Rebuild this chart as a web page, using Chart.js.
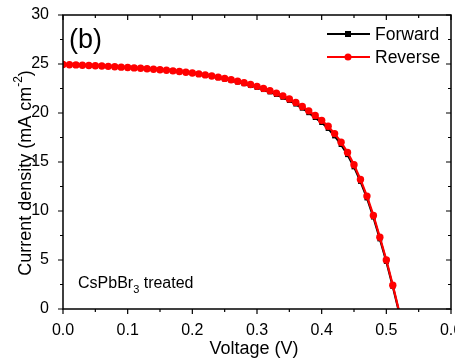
<!DOCTYPE html>
<html>
<head>
<meta charset="utf-8">
<script src="https://cdn.jsdelivr.net/npm/chart.js@4/dist/chart.umd.min.js"></script>
<style>
  body { margin: 0; background: #fff; }
  canvas { display: block; }
</style>
</head>
<body>
<canvas id="jvChart" width="455" height="362"></canvas>
<script>
// J-V sweep, 10 mV steps
var voltage = [0.00, 0.01, 0.02, 0.03, 0.04, 0.05, 0.06, 0.07, 0.08, 0.09,
               0.10, 0.11, 0.12, 0.13, 0.14, 0.15, 0.16, 0.17, 0.18, 0.19,
               0.20, 0.21, 0.22, 0.23, 0.24, 0.25, 0.26, 0.27, 0.28, 0.29,
               0.30, 0.31, 0.32, 0.33, 0.34, 0.35, 0.36, 0.37, 0.38, 0.39,
               0.40, 0.41, 0.42, 0.43, 0.44, 0.45, 0.46, 0.47, 0.48, 0.49,
               0.50, 0.51, 0.52];

var reverseJ = [24.95, 24.93, 24.91, 24.88, 24.85, 24.82, 24.79, 24.76, 24.72, 24.68,
                24.64, 24.60, 24.56, 24.51, 24.46, 24.41, 24.36, 24.30, 24.23, 24.16,
                24.08, 23.99, 23.89, 23.78, 23.66, 23.53, 23.39, 23.24, 23.08, 22.91,
                22.72, 22.51, 22.28, 22.03, 21.75, 21.44, 21.08, 20.67, 20.22, 19.74,
                19.25, 18.65, 17.90, 17.02, 15.98, 14.72, 13.22, 11.52, 9.55, 7.32,
                5.00, 2.42, -0.30];

var forwardJ = [24.94, 24.92, 24.90, 24.87, 24.84, 24.81, 24.78, 24.75, 24.71, 24.67,
                24.63, 24.59, 24.55, 24.50, 24.45, 24.40, 24.35, 24.28, 24.21, 24.14,
                24.06, 23.96, 23.86, 23.74, 23.61, 23.47, 23.32, 23.16, 22.99, 22.81,
                22.61, 22.39, 22.15, 21.89, 21.60, 21.28, 20.91, 20.49, 20.03, 19.54,
                19.03, 18.42, 17.66, 16.78, 15.75, 14.50, 13.02, 11.33, 9.38, 7.15,
                4.85, 2.30, -0.40];

var xTicks = [0.0, 0.1, 0.2, 0.3, 0.4, 0.5, 0.6];
var yTicks = [0, 5, 10, 15, 20, 25, 30];

var FONT = '"Liberation Sans", Arial, sans-serif';

function pairs(ys) {
    return voltage.map(function (v, i) { return { x: v, y: ys[i] }; });
}

// hide the marker of the point past Voc (below the axis)
function markerSize(r) {
    return function (c) { return c.parsed && c.parsed.y < 0 ? 0 : r; };
}

// frame + tick marks: bottom/left outward, top/right inward
var axisFrame = {
    id: 'axisFrame',
    afterDatasetsDraw: function (chart) {
        var ctx = chart.ctx, a = chart.chartArea;
        var x = chart.scales.x, y = chart.scales.y;
        ctx.save();
        ctx.strokeStyle = '#000';
        ctx.lineWidth = 1.5;
        ctx.strokeRect(a.left, a.top, a.right - a.left, a.bottom - a.top);
        ctx.lineWidth = 1.2;
        ctx.beginPath();
        for (var i = 0; i <= 12; i++) {
            var px = x.getPixelForValue(i * 0.05);
            var len = i % 2 ? 3 : 5;
            ctx.moveTo(px, a.bottom); ctx.lineTo(px, a.bottom + len);
            ctx.moveTo(px, a.top); ctx.lineTo(px, a.top + len);
        }
        for (var j = 0; j <= 12; j++) {
            var py = y.getPixelForValue(j * 2.5);
            var l2 = j % 2 ? 3 : 5;
            ctx.moveTo(a.left, py); ctx.lineTo(a.left - l2, py);
            ctx.moveTo(a.right, py); ctx.lineTo(a.right - l2, py);
        }
        ctx.stroke();
        ctx.restore();
    },
    afterDraw: function (chart) {
        var ctx = chart.ctx;
        ctx.save();
        ctx.fillStyle = '#000';

        // panel letter
        ctx.font = '27px ' + FONT;
        ctx.textBaseline = 'alphabetic';
        ctx.textAlign = 'left';
        ctx.fillText('(b)', 69, 48);

        // sample note with subscript
        ctx.font = '16px ' + FONT;
        ctx.textBaseline = 'middle';
        var t = 'CsPbBr';
        ctx.fillText(t, 78, 284);
        var w = ctx.measureText(t).width;
        ctx.font = '11px ' + FONT;
        ctx.fillText('3', 78 + w, 290);
        var w3 = ctx.measureText('3').width;
        ctx.font = '16px ' + FONT;
        ctx.fillText(' treated', 78 + w + w3, 284);

        // x title
        ctx.font = '18px ' + FONT;
        ctx.textAlign = 'center';
        ctx.fillText('Voltage (V)', 254, 349);

        // y title, rotated, with superscript
        ctx.translate(26, 173);
        ctx.rotate(-Math.PI / 2);
        ctx.textAlign = 'left';
        var main = 'Current density (mA cm';
        ctx.font = '18px ' + FONT;
        var mw = ctx.measureText(main).width;
        ctx.font = '12px ' + FONT;
        var sw = ctx.measureText('-2').width;
        ctx.font = '18px ' + FONT;
        var cw = ctx.measureText(')').width;
        var x0 = -(mw + sw + cw) / 2;
        ctx.fillText(main, x0, 0);
        ctx.font = '12px ' + FONT;
        ctx.fillText('-2', x0 + mw, -7);
        ctx.font = '18px ' + FONT;
        ctx.fillText(')', x0 + mw + sw, 0);
        ctx.restore();

        // legend: line with marker, then name
        var rows = [chart.data.datasets[1], chart.data.datasets[0]];
        ctx.save();
        rows.forEach(function (ds, k) {
            var ly = 34 + k * 23;
            ctx.strokeStyle = ds.borderColor;
            ctx.lineWidth = 2;
            ctx.beginPath();
            ctx.moveTo(327, ly); ctx.lineTo(370, ly);
            ctx.stroke();
            ctx.fillStyle = ds.backgroundColor;
            if (ds.pointStyle === 'rect') {
                ctx.fillRect(345, ly - 3, 6, 6);
            } else {
                ctx.beginPath();
                ctx.arc(348, ly, 3.5, 0, Math.PI * 2);
                ctx.fill();
            }
            ctx.fillStyle = '#000';
            ctx.font = '17.5px ' + FONT;
            ctx.textBaseline = 'middle';
            ctx.textAlign = 'left';
            ctx.fillText(ds.label, 375, ly + 1);
        });
        ctx.restore();
    }
};

var ctx = document.getElementById('jvChart');
var jvChart = new Chart(ctx, {
    type: 'line',
    data: {
        datasets: [{
            label: 'Reverse',
            data: pairs(reverseJ),
            borderColor: '#ff0000',
            backgroundColor: '#ff0000',
            borderWidth: 2.2,
            pointStyle: 'circle',
            pointRadius: markerSize(3.7),
            pointBorderWidth: 0,
            order: 0
        }, {
            label: 'Forward',
            data: pairs(forwardJ),
            borderColor: '#000000',
            backgroundColor: '#000000',
            borderWidth: 2.2,
            pointStyle: 'rect',
            pointRadius: markerSize(3.5),
            pointBorderWidth: 0,
            order: 1
        }]
    },
    options: {
        responsive: false,
        animation: false,
        layout: { padding: { top: 15, right: 2, left: 0, bottom: 0 } },
        plugins: {
            legend: { display: false },
            tooltip: { enabled: false }
        },
        scales: {
            x: {
                type: 'linear',
                min: 0,
                max: 0.6,
                grid: { display: false },
                border: { display: false },
                afterBuildTicks: function (s) {
                    s.ticks = xTicks.map(function (v) { return { value: v }; });
                },
                afterFit: function (s) {
                    s.height = 53;
                    s.paddingLeft = 0;
                    s.paddingRight = 0;
                },
                ticks: {
                    color: '#000',
                    padding: 4,
                    maxRotation: 0,
                    font: { family: FONT, size: 16 },
                    callback: function (v) { return v.toFixed(1); }
                }
            },
            y: {
                type: 'linear',
                min: 0,
                max: 30,
                grid: { display: false },
                border: { display: false },
                afterBuildTicks: function (s) {
                    s.ticks = yTicks.map(function (v) { return { value: v }; });
                },
                afterFit: function (s) {
                    s.width = 63;
                    s.paddingTop = 0;
                    s.paddingBottom = 0;
                },
                ticks: {
                    color: '#000',
                    padding: 6,
                    font: { family: FONT, size: 16 }
                }
            }
        }
    },
    plugins: [axisFrame]
});
</script>
</body>
</html>
